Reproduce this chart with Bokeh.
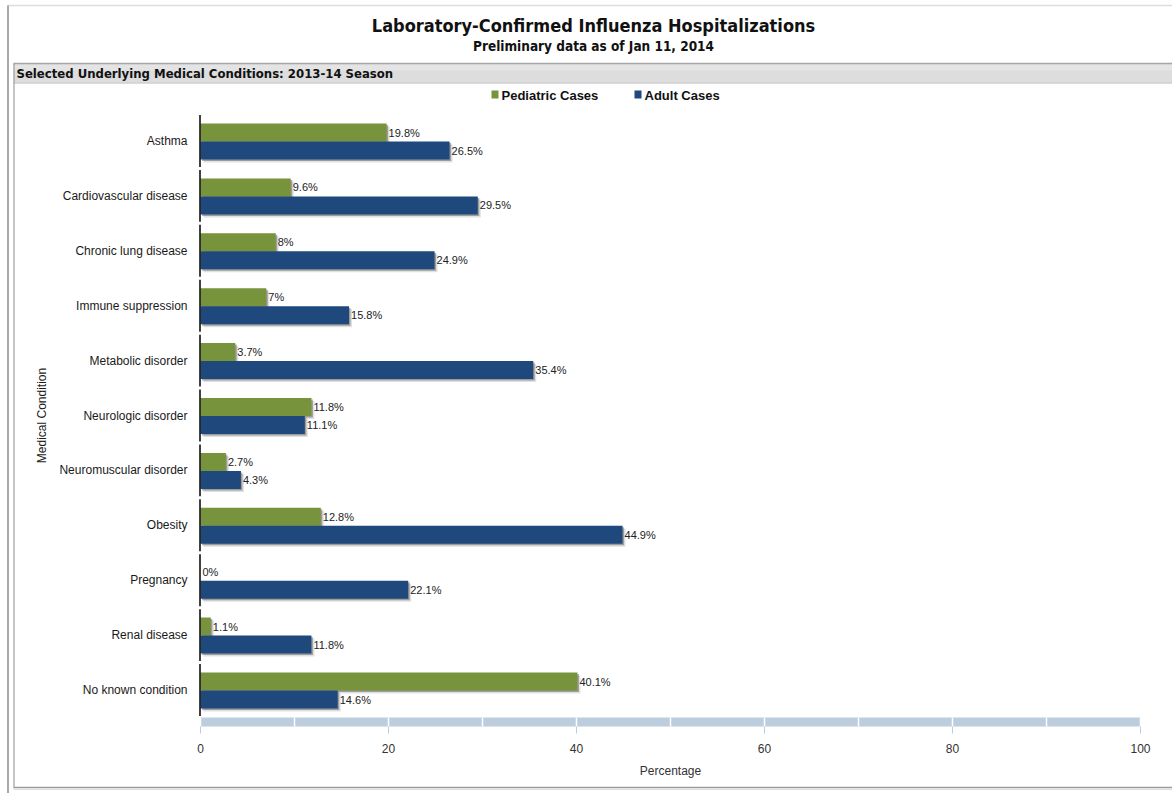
import math
from bokeh.plotting import figure
from bokeh.models import Range1d, ColumnDataSource
from bokeh.core.properties import value
from bokeh.embed import file_html
from bokeh.resources import INLINE

# ---- data -------------------------------------------------------------
conditions = [
    "Asthma", "Cardiovascular disease", "Chronic lung disease",
    "Immune suppression", "Metabolic disorder", "Neurologic disorder",
    "Neuromuscular disorder", "Obesity", "Pregnancy", "Renal disease",
    "No known condition",
]
pediatric = [19.8, 9.6, 8, 7, 3.7, 11.8, 2.7, 12.8, 0, 1.1, 40.1]
adult = [26.5, 29.5, 24.9, 15.8, 35.4, 11.1, 4.3, 44.9, 22.1, 11.8, 14.6]
series_names = ["Pediatric Cases", "Adult Cases"]
series_colors = ["#77933C", "#1F497D"]
x_ticks = [0, 20, 40, 60, 80, 100]
x_bands = list(range(0, 101, 10))

title = "Laboratory-Confirmed Influenza Hospitalizations"
subtitle = "Preliminary data as of Jan 11, 2014"
panel_title = "Selected Underlying Medical Conditions: 2013-14 Season"
x_label = "Percentage"
y_label = "Medical Condition"

# ---- page geometry (pixels) -------------------------------------------
W, H = 1172, 793
X0, PXU = 200.0, 9.4        # pixel of value 0, pixels per percent
Y0, ROW = 140.5, 54.9       # pixel of first category centre, row pitch


def sx(px):
    return (px - X0) / PXU


def sy(py):
    return (py - Y0) / ROW


def dx(px):
    return px / PXU


def dy(py):
    return py / ROW


SANS = value("'Liberation Sans', Arial, sans-serif")
NARROW = value("'Liberation Sans Narrow', 'DejaVu Sans Condensed', 'Arial Narrow', 'DejaVu Sans', sans-serif")

p = figure(
    width=W, height=H,
    x_range=Range1d(sx(0), sx(W)), y_range=Range1d(sy(H), sy(0)),
    toolbar_location=None, output_backend="svg",
    x_axis_location=None, y_axis_location=None,
    min_border=0,
)
p.grid.visible = False
p.outline_line_color = None
p.background_fill_color = "white"
p.border_fill_color = "white"

# ---- page frame ---------------------------------------------------------
p.segment(x0=[sx(7)], y0=[sy(5)], x1=[sx(W)], y1=[sy(5)], line_color="#DDDDDD", line_width=1.5)
p.segment(x0=[sx(7.5)], y0=[sy(5)], x1=[sx(7.5)], y1=[sy(H)], line_color="#8C8C8C", line_width=1.5)

# panel header band
p.quad(left=[sx(13)], right=[sx(W)], top=[sy(63)], bottom=[sy(83)],
       fill_color="#DDDDDD", line_color=None)
p.quad(left=[sx(13)], right=[sx(W)], top=[sy(64)], bottom=[sy(70)],
       fill_color="#E4E4E4", line_color=None)
p.segment(x0=[sx(13)], y0=[sy(63)], x1=[sx(W)], y1=[sy(63)], line_color="#A6A6A6", line_width=1.5)
p.segment(x0=[sx(13)], y0=[sy(82.5)], x1=[sx(W)], y1=[sy(82.5)], line_color="#C8C8C8", line_width=1)

# panel border
p.segment(x0=[sx(13.5)], y0=[sy(63)], x1=[sx(13.5)], y1=[sy(787)], line_color="#A0A0A0", line_width=1.2)
p.segment(x0=[sx(13)], y0=[sy(787)], x1=[sx(W)], y1=[sy(787)], line_color="#9A9A9A", line_width=1.5)
p.segment(x0=[sx(13)], y0=[sy(789)], x1=[sx(W)], y1=[sy(789)], line_color="#DDDDDD", line_width=1)

# ---- titles -------------------------------------------------------------
p.text(x=[sx(593)], y=[sy(25)], text=[title], text_font=NARROW, text_font_style="bold",
       text_font_size="18px", text_align="center", text_baseline="middle", text_color="#111111")
p.text(x=[sx(593)], y=[sy(45)], text=[subtitle], text_font=NARROW, text_font_style="bold",
       text_font_size="13.5px", text_align="center", text_baseline="middle", text_color="#111111")
p.text(x=[sx(16)], y=[sy(73)], text=[panel_title], text_font=NARROW, text_font_style="bold",
       text_font_size="13px", text_align="left", text_baseline="middle", text_color="#111111")

# ---- legend -------------------------------------------------------------
legend_px = [491, 634]
for name, color, lx in zip(series_names, series_colors, legend_px):
    p.rect(x=[sx(lx + 3.5)], y=[sy(94)], width=dx(7), height=dy(8),
           fill_color=color, line_color=None)
    p.text(x=[sx(lx + 10)], y=[sy(94.5)], text=[name], text_font=SANS, text_font_style="bold",
           text_font_size="13px", text_align="left", text_baseline="middle", text_color="#111111")

# ---- bars ---------------------------------------------------------------
idx = list(range(len(conditions)))
bar_h = dy(18)
offsets = [dy(-8.5), dy(9.5)]
for vals, color, off in zip([pediatric, adult], series_colors, offsets):
    ys = [i + off for i in idx]
    nz = [(y, v) for y, v in zip(ys, vals) if v > 0]
    # soft drop shadow, two layers
    sh3 = ColumnDataSource(dict(y=[y + dy(3) for y, _ in nz], l=[dx(3)] * len(nz),
                                r=[v + dx(3) for _, v in nz]))
    p.hbar(y="y", left="l", right="r", height=bar_h, source=sh3,
           fill_color="black", fill_alpha=0.12, line_color=None)
    sh2 = ColumnDataSource(dict(y=[y + dy(1.5) for y, _ in nz], l=[dx(1.5)] * len(nz),
                                r=[v + dx(1.5) for _, v in nz]))
    p.hbar(y="y", left="l", right="r", height=bar_h, source=sh2,
           fill_color="black", fill_alpha=0.3, line_color=None)
    src = ColumnDataSource(dict(y=ys, right=vals))
    p.hbar(y="y", left=0, right="right", height=bar_h, source=src,
           fill_color=color, line_color=None)
    lab = ColumnDataSource(dict(x=[v + dx(2) for v in vals], y=ys,
                                t=[f"{v:g}%" for v in vals]))
    p.text(x="x", y="y", text="t", source=lab, text_font=SANS, text_font_size="11px",
           text_align="left", text_baseline="middle", text_color="#222222")

# ---- category axis ------------------------------------------------------
gap = dy(1.5)
p.segment(x0=[sx(199.5)] * len(idx), y0=[i - 0.5 + gap for i in idx],
          x1=[sx(199.5)] * len(idx), y1=[i + 0.5 - gap for i in idx],
          line_color="black", line_width=1.5)
p.text(x=[sx(187)] * len(idx), y=idx, text=conditions, text_font=SANS, text_font_size="12px",
       text_align="right", text_baseline="middle", text_color="#1A1A1A")
p.text(x=[sx(41)], y=[(len(idx) - 1) / 2], text=[y_label], angle=math.pi / 2,
       text_font=SANS, text_font_size="12px", text_align="center", text_baseline="middle",
       text_color="#1A1A1A")

# ---- value axis ---------------------------------------------------------
p.hbar(y=[sy(721.5)], left=[0], right=[100], height=dy(9), fill_color="#BCCDDE", line_color=None)
p.segment(x0=x_bands, y0=[sy(717)] * len(x_bands), x1=x_bands, y1=[sy(726)] * len(x_bands),
          line_color="white", line_width=1.5)
p.segment(x0=x_ticks, y0=[sy(726)] * len(x_ticks), x1=x_ticks, y1=[sy(733)] * len(x_ticks),
          line_color="#BCCDDE", line_width=1)
p.text(x=x_ticks, y=[sy(748)] * len(x_ticks), text=[str(t) for t in x_ticks], text_font=SANS,
       text_font_size="12px", text_align="center", text_baseline="middle", text_color="#333333")
p.text(x=[50], y=[sy(770)], text=[x_label], text_font=SANS, text_font_size="12px",
       text_align="center", text_baseline="middle", text_color="#333333")

open("out.html", "w").write(file_html(p, INLINE))
